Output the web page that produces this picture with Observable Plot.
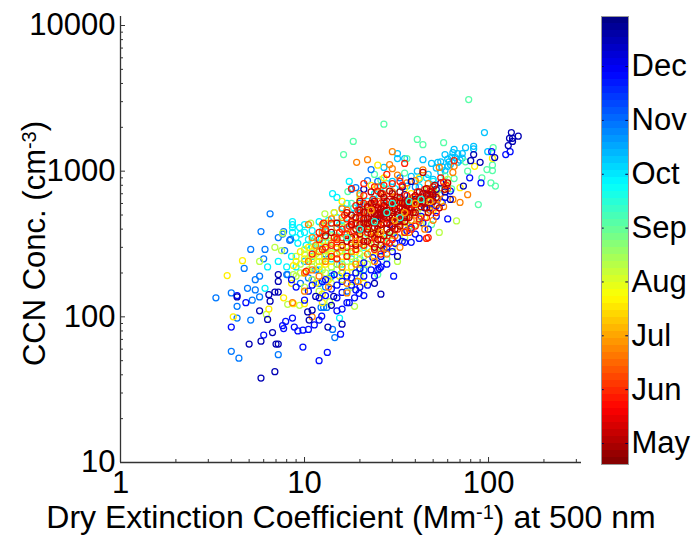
<!DOCTYPE html>
<html>
<head>
<meta charset="utf-8">
<script src="https://cdn.jsdelivr.net/npm/d3@7"></script>
<script src="https://cdn.jsdelivr.net/npm/@observablehq/plot@0.6"></script>
<style>
html,body{margin:0;padding:0;background:#fff;}
#chart{position:relative;width:693px;height:535px;overflow:hidden;}
#chart svg{position:absolute;left:0;top:0;}
</style>
</head>
<body>
<div id="chart"></div>
<script>
const months = ["May","Jun","Jul","Aug","Sep","Oct","Nov","Dec"];
const monthRange = [-0.39, 7.93];
const xTicks = [1,10,100];
const xMinor = [2,3,4,5,6,7,8,9,20,30,40,50,60,70,80,90,200,300];
const yTicks = [10,100,1000,10000];
const yMinor = [20,30,40,50,60,70,80,90,200,300,400,500,600,700,800,900,2000,3000,4000,5000,6000,7000,8000,9000];
const jetStops = ["#00007f","#0000ff","#007fff","#00ffff","#7fff7f","#ffff00","#ff7f00","#ff0000","#7f0000"];

// [extinction, CCN] pairs, grouped by the season position of their colour
const sky = [[95,1840],[99,1360],[83,1480],[83,1420],[75,1450],[65,1410],[64,1340],[68,1320],[72,1320],[58,1300],[72,1230],[44,1200],[49,1130],[55,1160],[53,1150],[60,1080],[62,1110],[58,1010],[32,1320],[32,1220],[35,1220],[27,1060],[41,1000],[38,920],[60,1210],[66,1240],[68,1150],[63,1250],[52,1050],[47,950],[55,980],[50,880],[70,1190],[42,880],[36,790],[30,850],[61,1160],[56,1070],[13,300],[15,350],[17,400],[19,520],[24,640],[11,260],[10,240]];
const cyan = [[14.2,700],[15,660],[17.5,850],[8.6,450],[8.6,430],[8.6,410],[8.6,380],[9.4,410],[8.5,260],[8,220],[15.5,98],[6.1,157],[6.3,220],[7.2,240],[9,350],[10,380],[10.5,340],[11,300],[12,320],[13,420],[14,400],[13,350],[15,480],[16,420],[17,440],[18,500],[20,560],[22,620],[24,700],[26,780],[28,820],[15,300],[17,280],[19,330],[21,300],[12,260],[14,250],[16,230],[18,250],[25,400],[28,350],[32,450],[35,500],[38,650],[42,780],[46,900],[50,850],[9.5,370],[10,430],[11,390],[12,450],[16,560],[19,430],[22,370],[30,540],[9.2,320],[10.2,310],[11.5,350],[12.5,390],[13.5,460],[14.5,520],[15.5,430],[17,600],[18.5,560],[21,480],[23,510],[27,640],[31,760],[33,640],[20,250],[16,200],[14,200],[12,210],[9,220]];
const mint = [[78,3100],[27,2100],[18.4,1600],[41,1650],[44,1520],[57,1570],[106,1450],[75,1160],[105,1100],[105,1010],[98,1025],[77,1000],[36,1220],[35,970],[65,890],[92,900],[103,830],[109,790],[63,755],[88,590],[49,430],[16.3,1300],[17.2,725],[25,195],[24,950],[26,870],[20,680],[18,600],[13,330],[15,360],[22,430],[30,380],[34,460],[42,560],[54,750],[11,330],[12,280],[14,280],[16,280],[18,220],[20,210],[23,280],[28,250],[37,420],[46,640],[50,750],[31,620],[27,760],[21,540],[58,930]];
const lime = [[67,455],[54,380],[12.9,510],[10.8,440],[7.6,375],[6.9,300],[7.5,285],[5.7,240],[8.7,195],[6.2,104],[18.7,118],[13.7,127],[9.4,120],[8.1,122],[9,260],[9.5,230],[10,290],[10.5,250],[11,220],[11.5,270],[12,310],[12.5,240],[13,200],[13.5,260],[14,300],[15,210],[15.5,280],[16,340],[17,240],[18,300],[19,200],[20,270],[21,350],[22,230],[24,320],[26,280],[28,400],[11,180],[9,190],[10,160],[12,150],[14,170],[16,180],[18,160],[20,190],[30,300],[32,240],[35,350],[40,430],[44,520],[48,600],[52,700],[60,880],[38,500],[25,450],[20,450],[16,450],[14,360],[9.5,200],[10,270],[10.5,210],[11,240],[11.5,300],[12,240],[12.5,210],[13,260],[13.5,330],[14,220],[15,250],[15.5,230],[16,300],[17,280],[18,260],[19,240],[20,300],[21,260],[23,340],[25,300],[27,340],[29,360],[33,430],[37,640],[43,440],[47,760]];
const yellow = [[105,1225],[84,1080],[70,770],[25,1100],[4.6,243],[3.8,192],[6.4,113],[4.1,100],[12.5,143],[12.5,125],[10,123],[8.7,123],[7.7,135],[14.5,520],[8.7,225],[8.5,170],[9.5,280],[10,200],[10.5,300],[11,250],[11.5,170],[12,220],[13,290],[13.5,180],[14,240],[15,320],[15.5,190],[16,260],[17,200],[18,380],[19,280],[20,230],[21,170],[22,300],[23,380],[24,260],[26,340],[28,300],[30,420],[33,380],[36,440],[40,560],[45,480],[50,540],[55,620],[20,640],[23,800],[27,900],[35,760],[42,900],[16,620],[13,440],[9,240],[10,250],[11,280],[12,260],[12.5,330],[13,230],[14,270],[14.5,350],[16,300],[17,350],[18,220],[19,310],[20,350],[22,420],[24,380],[26,460],[29,520],[32,600],[38,700],[47,700],[58,800]];
const azure = [[5.1,290],[6.1,290],[6,250],[4.7,215],[8,195],[5.7,190],[5.4,180],[4.9,157],[5.4,153],[4,146],[3.3,135],[5.2,130],[5.7,137],[4.3,118],[4.3,98],[5.1,95],[4,58],[4.4,52],[7.2,55],[14.2,82],[14.6,72],[13.2,116],[12.7,116],[12.3,116],[6.5,510],[5.8,385],[7.7,385],[7.6,370],[7.2,350],[8.4,340],[8.3,335],[7.8,285],[23,1025],[18,750],[19,770],[12,170],[15,230],[13,270],[11,180],[8.1,195],[22,860],[25,850],[20,600],[33,900],[40,780],[9.5,170],[10.5,185],[11.5,210],[13,160],[14,190],[16,200],[17,150],[19,175],[21,210]];
const orange = [[30,1360],[19.2,1150],[22,1200],[29,1110],[30,1040],[54,1060],[65,1080],[32,940],[36,830],[40,860],[64,980],[77,690],[70,610],[64,640],[57,570],[44,1020],[17,146],[11,100],[8.6,125],[16,550],[17,540],[10.5,430],[10,200],[10,150],[11,350],[11.5,310],[12,190],[12.5,380],[13,240],[13.5,160],[14,320],[15,270],[15,410],[16,220],[16.5,370],[17,170],[18,280],[18.5,480],[19,230],[20,320],[21,530],[22,270],[23,350],[24,240],[25,620],[26,400],[27,300],[28,270],[29,450],[30,720],[31,360],[33,300],[35,420],[37,380],[40,500],[42,450],[45,400],[48,540],[50,460],[52,590],[25,780],[20,700],[55,700],[60,760],[19.5,175],[10.5,240],[11,210],[12,280],[12.5,430],[13,390],[14,470],[15,350],[16,480],[17,410],[18,340],[19,430],[20,390],[21,460],[22,590],[23,450],[24,360],[26,500],[27,680],[28,480],[29,590],[31,670],[34,630],[36,520],[38,460],[41,640],[44,590],[47,820],[53,640]];
const blue = [[8.6,98],[7.9,93],[7.6,87],[7.7,83],[8.8,85],[9.2,80],[9.8,81],[6,75],[9.8,62],[13.3,57],[12,50],[11.3,88],[12,95],[12.4,101],[10.5,82],[15.7,76],[15,110],[16,113],[17,125],[17.5,125],[18.7,135],[21,140],[19,153],[16,147],[4.3,140],[4.8,125],[4,85],[104,1360],[91,830],[79,900],[60,470],[52,490],[42,345],[30.5,190],[19.8,145],[25,210],[47,400],[38,325],[35,325],[28,230],[26,220],[25,232],[25.5,215],[23.5,255],[21,235],[10,130],[10.5,150],[11,165],[12,135],[12.5,175],[13,140],[14,155],[14.5,195],[15,135],[16,175],[17,190],[18,165],[19,200],[20,160],[21,190],[22,165],[23,210],[24,190],[26,260],[28,300],[30,280],[32,350],[34,330],[36,390],[40,370],[44,440],[48,560],[52,580],[58,660],[62,730],[9,160],[8.5,180],[131,1360],[124,1300],[13,180],[15,165],[18,185],[20,215],[27,290],[31,320],[38,410],[43,490],[49,600],[56,610]];
const navy = [[7.2,195],[7.2,175],[7.2,148],[6.9,148],[6.4,142],[4.3,137],[6.5,128],[5.7,110],[6.3,96],[6.7,78],[5.8,68],[5,65],[7,65],[7.2,65],[6.9,42],[5.8,38],[10.4,108],[11,111],[10.6,95],[13.4,85],[16,89],[14,120],[14.4,138],[11.5,138],[133,1840],[130,1680],[135,1680],[145,1740],[128,1500],[135,1600],[83,1300],[90,1150],[80,1180],[108,1240],[73,790],[24,170],[26,143],[32,260],[21,750],[30,600],[34,780],[38,850],[42,620],[46,700],[50,680],[55,830],[62,640],[45,560],[40,640],[35,690],[26,480],[58,720],[37,560],[52,750],[29,430],[33,470]];
const red = [[65,1180],[35,1130],[33,850],[59,800],[57,840],[47,350],[46,345],[12.7,440],[10.2,205],[11,270],[12,340],[12.5,290],[13,300],[14,440],[14.5,350],[15,300],[15.5,380],[16,400],[16.5,500],[17,300],[17.5,420],[18,450],[18.5,390],[19,350],[19.5,540],[20,480],[20.5,400],[21,600],[22,520],[22.5,440],[23,560],[23.5,640],[24,450],[25,540],[25.5,470],[26,600],[26.5,700],[27,440],[27.5,510],[28,560],[29,640],[30,580],[31,480],[32,530],[33,620],[34,500],[35,560],[36,680],[37,540],[38,600],[40,590],[41,720],[43,660],[45,750],[47,640],[50,780],[55,900],[24,290],[26,270],[30,340],[28,330],[14,260],[18,760],[21,820],[28,950],[36,480],[40,420],[46,480],[52,520],[22,380],[25,730],[15,340],[16,350],[17,370],[18,320],[19,440],[20,520],[21,410],[22,560],[23,470],[24,600],[25,420],[26,560],[27,620],[28,470],[29,540],[30,490],[31,590],[32,660],[34,560],[35,610],[36,530],[38,540],[39,660],[42,600],[44,660],[48,730],[15,250],[17,260],[19,290],[21,310],[23,320],[26,340],[29,320],[32,400],[35,380],[38,400],[42,470],[17,470],[19,580],[21,680],[24,780],[27,800],[30,820],[34,800],[14,310],[13,400],[12,380],[30,410],[33,450],[24,350],[20,340]];
const darkRed = [[44,980],[25,500],[26,520],[27,530],[28,510],[24,480],[23,510],[22,470],[21,440],[20,430],[19,400],[24,540],[25,560],[27,490],[29,480],[30,520],[31,550],[32,500],[33,560],[34,600],[35,540],[36,580],[30,460],[28,440],[26,430],[24,410],[22,400],[20,370],[18,350],[17,330],[16,310],[27,580],[23,600],[21,520],[19,480],[18,430],[28,620],[31,630],[38,620],[40,680],[42,640],[44,700],[46,760],[48,690],[50,620],[52,660],[45,600],[43,570],[49,720],[51,800],[39,520],[37,480],[35,450],[33,420],[31,400],[29,380],[27,360],[25,340],[24,300],[26,310],[22,330],[30,700],[33,720],[23,720],[20,620],[17,520],[15,440],[14,380],[13,360],[54,560],[47,520],[60,830],[58,750],[25,470],[26,500],[27,510],[28,540],[29,560],[24,510],[26,550],[30,490],[23,450],[22,440],[32,530],[34,520],[35,600],[36,620],[24,440],[25,400],[21,470],[20,400],[41,600],[46,680],[22,570],[20,540],[18,500],[24,620],[27,660],[30,620],[33,660],[28,400],[30,420],[32,450],[35,480],[25,370],[23,370],[21,330],[19,310],[38,560],[40,520],[44,620],[48,640],[50,700],[26,700],[29,730],[42,720],[46,560]];
const upperMint = [[24,450],[28,520],[33,480],[20,400],[37,620],[17,350],[43,640],[30,600]];
const upperAmber = [[23,540],[31,460],[26,380],[35,520],[19,330],[40,600],[48,620],[16,300]];

const groups = [
  {v:5.3, pts:sky},{v:4.9, pts:cyan},{v:4.1, pts:mint},{v:5.9, pts:azure},{v:3.3, pts:lime},
  {v:2.6, pts:yellow},{v:6.8, pts:blue},{v:1.7, pts:orange},{v:7.5, pts:navy},{v:0.9, pts:red},{v:0.1, pts:darkRed},
  {v:4.5, pts:upperMint},{v:2.0, pts:upperAmber}
];
const rows = groups.flatMap(g => g.pts.map(([x,y]) => ({x, y, month:g.v})));

const jet = d3.piecewise(d3.interpolateRgb, jetStops);
const colorScale = {type:"linear", domain:monthRange, interpolate:t => jet(1 - t)};
const font = {fontFamily:"'Liberation Sans', Arial, sans-serif", background:"transparent"};
const bands = d3.range(64);
const band = (monthRange[1]-monthRange[0])/64;

const main = Plot.plot({
  width:693, height:535,
  marginLeft:120, marginRight:112, marginTop:16, marginBottom:73,
  style:font,
  x:{type:"log", domain:[1,320]},
  y:{type:"log", domain:[10,11530]},
  color:colorScale,
  marks:[
    Plot.axisX(xMinor,{tickSize:-3, tickFormat:()=>"", label:null, stroke:"#333"}),
    Plot.axisY(yMinor,{tickSize:-3, tickFormat:()=>"", label:null, stroke:"#333"}),
    Plot.axisX(xTicks,{tickSize:-5, tickPadding:13, tickFormat:d=>String(d), fontSize:31, fill:"#000", stroke:"#333", label:"Dry Extinction Coefficient (Mm-1) at 500 nm", labelAnchor:"center", labelArrow:"none", labelOffset:65}),
    Plot.axisY(yTicks,{tickSize:-5, tickPadding:10, tickFormat:d=>String(d), fontSize:31, fill:"#000", stroke:"#333", label:"CCN Conc. (cm-3)", labelAnchor:"center", labelArrow:"none", labelOffset:98}),
    Plot.ruleX([1],{stroke:"#333", strokeWidth:1.3}),
    Plot.ruleY([10],{stroke:"#333", strokeWidth:1.3}),
    Plot.dot(rows,{x:"x", y:"y", stroke:"month", r:3, strokeWidth:1.25, fill:"none"})
  ]
});

const bar = Plot.plot({
  width:693, height:535,
  marginLeft:601, marginRight:65, marginTop:16, marginBottom:71,
  style:font,
  x:{domain:[0,1], axis:null},
  y:{domain:monthRange},
  color:colorScale,
  marks:[
    Plot.rect(bands,{x1:0, x2:1, y1:i=>monthRange[0]+i*band, y2:i=>monthRange[0]+(i+1)*band, fill:i=>monthRange[0]+(i+0.5)*band, shapeRendering:"crispEdges"}),
    Plot.ruleY(d3.range(months.length),{x1:0, x2:0.1, stroke:"#00004d", strokeWidth:1}),
    Plot.ruleY(d3.range(months.length),{x1:0.9, x2:1, stroke:"#00004d", strokeWidth:1}),
    Plot.frame({stroke:"#999", strokeWidth:1}),
    Plot.axisY(d3.range(months.length),{anchor:"right", tickSize:0, tickPadding:3, tickFormat:i=>months[i], fontSize:31, fill:"#000", label:null})
  ]
});

const box = document.getElementById("chart");
box.append(main, bar);

// set the label fonts and raise the exponents in the axis labels as real text
function superscript(textEl, before, exp, after, size, shift){
  textEl.textContent = "";
  textEl.setAttribute("font-size", size);
  const ns = "http://www.w3.org/2000/svg";
  const add = (s, attrs, sz) => {
    const t = document.createElementNS(ns,"tspan");
    t.textContent = s;
    for (const k in attrs) t.setAttribute(k, attrs[k]);
    if (sz) t.setAttribute("font-size", sz);
    textEl.appendChild(t);
  };
  add(before, shift ? {dx:shift} : {});
  add(exp,{dy:"-0.42em"},"20");
  add(after,{dy:"0.27em"});
}
main.querySelectorAll("text").forEach(t => {
  const s = t.textContent;
  if (s.includes("Mm-1")) superscript(t,"Dry Extinction Coefficient (Mm","-1",") at 500 nm","32");
  if (s.includes("cm-3")) superscript(t,"CCN Conc. (cm","-3",")","31","-4");
});
</script>
</body>
</html>
